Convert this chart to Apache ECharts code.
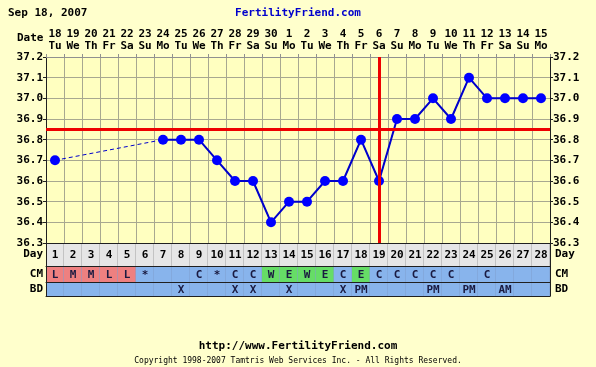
<!DOCTYPE html>
<html><head><meta charset="utf-8">
<script src="https://cdn.jsdelivr.net/npm/echarts@6/dist/echarts.min.js"></script>
<style>html,body{margin:0;padding:0;background:#ffffcc;}#c{width:596px;height:367px;}</style>
</head><body><div id="c"></div>
<script>
// ---- data ----
const dates = ['18','19','20','21','22','23','24','25','26','27','28','29','30','1','2','3','4','5','6','7','8','9','10','11','12','13','14','15'];
const weekdays = ['Tu','We','Th','Fr','Sa','Su','Mo','Tu','We','Th','Fr','Sa','Su','Mo','Tu','We','Th','Fr','Sa','Su','Mo','Tu','We','Th','Fr','Sa','Su','Mo'];
const cycleDays = ['1','2','3','4','5','6','7','8','9','10','11','12','13','14','15','16','17','18','19','20','21','22','23','24','25','26','27','28'];
const temps = [36.7,null,null,null,null,null,36.8,36.8,36.8,36.7,36.6,36.6,36.4,36.5,36.5,36.6,36.6,36.8,36.6,36.9,36.9,37.0,36.9,37.1,37.0,37.0,37.0,37.0];
const cm = ['L','M','M','L','L','*','','','C','*','C','C','W','E','W','E','C','E','C','C','C','C','C','','C','','',''];
const bd = ['','','','','','','','X','','','X','X','','X','','','X','PM','','','','PM','','PM','','AM','',''];
const yTicks = [36.3, 37.2, 0.1];
const coverline = 36.85;
const ovulationIndex = 18;

const FONT = 'DejaVu Sans Mono';
const bold11 = {fontFamily: FONT, fontWeight: 'bold', fontSize: 11, color: '#000'};

function cmFill(v) {
  if (v === 'L' || v === 'M' || v === 'H') return '#ee8080';
  if (v === 'W' || v === 'E') return '#66dd66';
  return '#88b4ec';
}

function cellRenderer(texts, fillFn, stroke, textColor) {
  return function (params, api) {
    const i = api.value(0);
    const p = api.coord([i, 0]);
    const s = api.size([1, 1]);
    const t = texts[params.dataIndex];
    const x0 = p[0] - s[0] / 2, y0 = p[1] - s[1] / 2;
    return {
      type: 'group',
      children: [
        {type: 'rect', shape: {x: x0, y: y0, width: s[0], height: s[1]}, style: {fill: fillFn(t), stroke: null}},
        {type: 'line', shape: {x1: x0 + s[0], y1: y0, x2: x0 + s[0], y2: y0 + s[1]}, style: {stroke: stroke, lineWidth: 1}},
        {type: 'text', style: {text: t, x: p[0], y: p[1] + 1, align: 'center', verticalAlign: 'middle',
          font: 'bold 11px "' + FONT + '"', fill: textColor}}
      ]
    };
  };
}

const chart = echarts.init(document.getElementById('c'), null, {renderer: 'canvas'});

const tableRows = [
  {name: 'Day', top: 243, height: 23},
  {name: 'CM', top: 266, height: 16},
  {name: 'BD', top: 282, height: 14}
];

const grids = [{left: 46, top: 57, width: 504, height: 186, show: true, backgroundColor: '#ffffc0', borderWidth: 0}];
tableRows.forEach(r => grids.push({left: 46, top: r.top, width: 504, height: r.height}));

const xAxes = [{
  gridIndex: 0, type: 'category', data: dates, position: 'top', boundaryGap: true,
  axisLine: {show: true, lineStyle: {color: '#909090'}},
  axisTick: {show: true, length: 3, lineStyle: {color: '#909090'}},
  axisLabel: Object.assign({}, bold11, {margin: 5, lineHeight: 12, interval: 0,
    formatter: (v, i) => dates[i] + '\n' + weekdays[i]}),
  splitLine: {show: true, lineStyle: {color: '#a8a890', width: 1}}
}];
tableRows.forEach((r, k) => {
  xAxes.push({gridIndex: k + 1, type: 'category', data: cycleDays, position: 'top', z: 5,
    axisLine: {show: true, lineStyle: {color: '#202020'}}, axisTick: {show: false}, axisLabel: {show: false}});
});
xAxes.push({gridIndex: 3, type: 'category', data: cycleDays, position: 'bottom', z: 5,
  axisLine: {show: true, lineStyle: {color: '#202020'}}, axisTick: {show: false}, axisLabel: {show: false}});

const yAxes = [
  {gridIndex: 0, type: 'value', position: 'left', min: yTicks[0], max: yTicks[1], interval: yTicks[2],
    axisLine: {show: true, lineStyle: {color: '#202020'}},
    axisTick: {show: true, length: 3, lineStyle: {color: '#202020'}},
    axisLabel: Object.assign({}, bold11, {margin: 3, formatter: v => v.toFixed(1)}),
    splitLine: {show: true, lineStyle: {color: '#a8a890', width: 1}}},
  {gridIndex: 0, type: 'value', position: 'right', min: yTicks[0], max: yTicks[1], interval: yTicks[2],
    axisLine: {show: true, lineStyle: {color: '#202020'}},
    axisTick: {show: true, length: 3, lineStyle: {color: '#202020'}},
    axisLabel: Object.assign({}, bold11, {margin: 3, formatter: v => v.toFixed(1)}),
    splitLine: {show: false}}
];
tableRows.forEach((r, k) => {
  ['left', 'right'].forEach(pos => {
    yAxes.push({gridIndex: k + 1, type: 'category', data: [r.name], position: pos, z: 5,
      axisLine: {show: true, lineStyle: {color: '#202020'}}, axisTick: {show: false},
      axisLabel: Object.assign({}, bold11, {margin: pos === 'left' ? 3 : 5})});
  });
});

const idx = cycleDays.map((d, i) => [i, 0]);

chart.setOption({
  animation: false,
  backgroundColor: '#ffffcc',
  title: [
    {text: 'Sep 18, 2007', left: 3, top: 3, textStyle: Object.assign({}, bold11)},
    {text: 'FertilityFriend.com', left: 'center', top: 3, textStyle: Object.assign({}, bold11, {color: '#0000cc'})},
    {text: 'http://www.FertilityFriend.com', left: 'center', top: 336, textStyle: Object.assign({}, bold11)},
    {text: 'Copyright 1998-2007 Tamtris Web Services Inc. - All Rights Reserved.', left: 'center', top: 352,
      textStyle: {fontFamily: FONT, fontSize: 8, fontWeight: 'normal', color: '#000'}}
  ],
  graphic: [{type: 'text', left: 17, top: 33, style: {text: 'Date', font: 'bold 11px "' + FONT + '"', fill: '#000'}}],
  grid: grids,
  xAxis: xAxes,
  yAxis: yAxes,
  series: [
    {type: 'line', xAxisIndex: 0, yAxisIndex: 0, data: temps, connectNulls: true, showSymbol: false, z: 2,
      lineStyle: {color: '#0000cc', width: 1, type: [4, 3]}, silent: true},
    {type: 'line', xAxisIndex: 0, yAxisIndex: 0, data: temps, connectNulls: false, z: 3,
      symbol: 'circle', symbolSize: 10, itemStyle: {color: '#0000ff'},
      lineStyle: {color: '#0000cc', width: 2}, silent: true},
    {type: 'line', xAxisIndex: 0, yAxisIndex: 0, data: [], z: 4, silent: true,
      markLine: {silent: true, symbol: ['none', 'none'], label: {show: false},
        lineStyle: {color: '#ee0000', width: 3, type: 'solid'},
        data: [{yAxis: coverline}, {xAxis: ovulationIndex}]}},
    {type: 'custom', xAxisIndex: 1, yAxisIndex: 2, data: idx,
      renderItem: cellRenderer(cycleDays, () => '#e6e6e6', '#a0a0a0', '#000')},
    {type: 'custom', xAxisIndex: 2, yAxisIndex: 4, data: idx,
      renderItem: cellRenderer(cm, cmFill, '#7f9fcf', '#1a1a40')},
    {type: 'custom', xAxisIndex: 3, yAxisIndex: 6, data: idx,
      renderItem: cellRenderer(bd, () => '#88b4ec', '#7f9fcf', '#1a1a40')}
  ]
});
</script></body></html>
